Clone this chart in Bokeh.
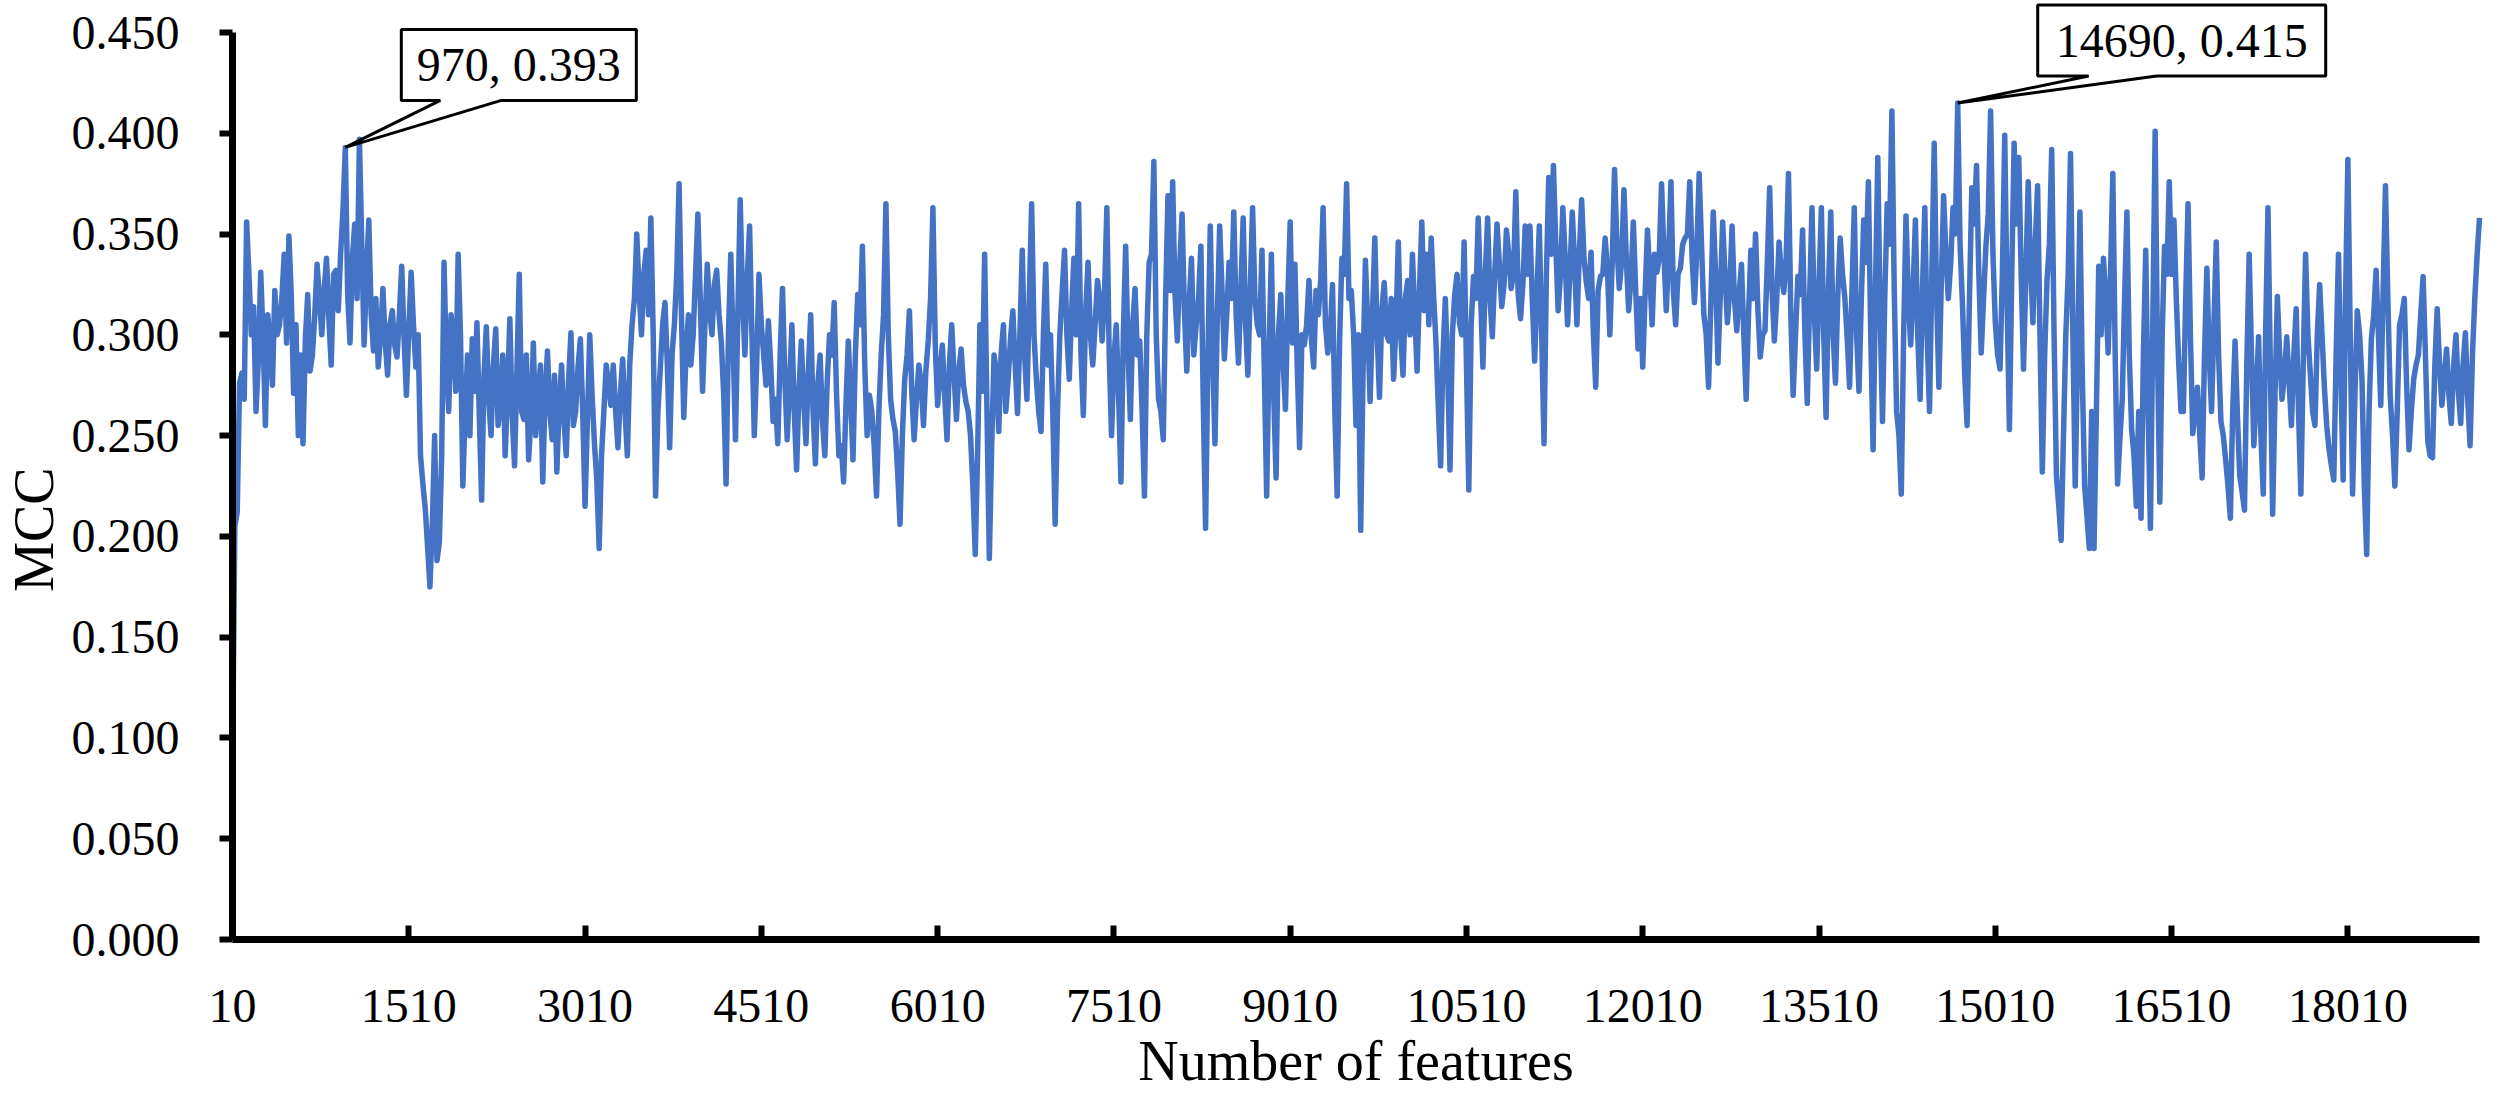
from math import pi
from bokeh.plotting import figure
from bokeh.models import Range1d, FixedTicker, Label, PolyAnnotation
from bokeh.embed import file_html
from bokeh.resources import INLINE

# ---- data: MCC ----
# values at 10, 50, 90, ... (every 40 features)
mcc_a_1 = [
    0.087, 0.212, 0.281, 0.356, 0.300, 0.262, 0.331, 0.255, 0.296, 0.322,
    0.305, 0.340, 0.349, 0.271, 0.250, 0.246, 0.320, 0.290, 0.335, 0.300,
    0.338, 0.285, 0.332, 0.340, 0.393, 0.296, 0.355, 0.397, 0.295, 0.357,
    0.292, 0.284, 0.323, 0.280, 0.312, 0.289, 0.334, 0.270, 0.331, 0.284,
    0.240, 0.214, 0.175, 0.250, 0.197, 0.336, 0.262, 0.296, 0.340, 0.225,
    0.290, 0.298, 0.306, 0.218, 0.304, 0.250, 0.303, 0.265, 0.240, 0.308,
    0.235, 0.330, 0.258, 0.238, 0.296, 0.268, 0.227, 0.292, 0.248, 0.232,
    0.285, 0.240, 0.301, 0.262, 0.298, 0.215, 0.300, 0.246, 0.194, 0.262,
    0.275,
]
mcc_a_2 = [
    0.285, 0.244, 0.288, 0.240, 0.305, 0.350, 0.300, 0.342, 0.358, 0.220,
    0.283, 0.316, 0.244, 0.305, 0.375, 0.259, 0.310, 0.300, 0.360, 0.272,
    0.335, 0.300, 0.332, 0.296, 0.226, 0.340, 0.248, 0.367, 0.290, 0.354,
    0.250, 0.330, 0.290, 0.307, 0.257, 0.246, 0.323, 0.248, 0.305, 0.233,
    0.297, 0.246, 0.310, 0.236, 0.290, 0.240, 0.300, 0.316, 0.240, 0.227,
    0.297, 0.238, 0.320, 0.344, 0.250, 0.262, 0.220, 0.290, 0.365, 0.268,
    0.252, 0.206, 0.278, 0.312, 0.248, 0.285, 0.255, 0.297, 0.363, 0.265,
    0.295, 0.248, 0.305, 0.258, 0.293, 0.267, 0.250, 0.191, 0.305,
]
mcc_a_3 = [
    0.340, 0.189, 0.290, 0.252, 0.305, 0.278, 0.312, 0.261, 0.342, 0.268,
    0.365, 0.278, 0.252, 0.335, 0.300, 0.206, 0.300, 0.342, 0.278, 0.338,
    0.365, 0.260, 0.336, 0.285, 0.327, 0.297, 0.363, 0.250, 0.305, 0.227,
    0.344, 0.258, 0.323, 0.297, 0.220, 0.336, 0.386, 0.268, 0.248, 0.369,
    0.376, 0.297, 0.360, 0.282, 0.338, 0.305, 0.344, 0.204, 0.354, 0.246,
    0.354, 0.288, 0.336, 0.361, 0.286, 0.358, 0.280, 0.363, 0.305, 0.342,
    0.220, 0.340, 0.229, 0.320, 0.263, 0.356, 0.335, 0.244, 0.295, 0.327,
    0.284, 0.310, 0.363, 0.291, 0.325, 0.220, 0.338, 0.375, 0.322,
]
mcc_a_4 = [
    0.255, 0.203, 0.337, 0.267, 0.348, 0.269, 0.326, 0.297, 0.278, 0.346,
    0.280, 0.327, 0.340, 0.282, 0.356, 0.340, 0.348, 0.297, 0.235, 0.318,
    0.233, 0.320, 0.306, 0.346, 0.223, 0.329, 0.358, 0.284, 0.358, 0.299,
    0.355, 0.314, 0.352, 0.323, 0.371, 0.308, 0.354, 0.354, 0.287, 0.354,
    0.246, 0.378, 0.384, 0.312, 0.363, 0.305, 0.361, 0.305, 0.367, 0.326,
    0.341, 0.274, 0.329, 0.348, 0.300, 0.382, 0.323, 0.372, 0.312, 0.356,
    0.293, 0.284, 0.352, 0.305, 0.331, 0.375, 0.312, 0.376, 0.305, 0.333,
    0.348, 0.376, 0.316, 0.380, 0.310, 0.274, 0.361, 0.286,
]
mcc_a_5 = [
    0.356, 0.306, 0.354, 0.302, 0.335, 0.268, 0.342, 0.350, 0.289, 0.302,
    0.373, 0.297, 0.346, 0.321, 0.380, 0.270, 0.329, 0.352, 0.266, 0.363,
    0.283, 0.363, 0.259, 0.361, 0.276, 0.348, 0.318, 0.274, 0.363, 0.272,
    0.357, 0.376, 0.243, 0.388, 0.257, 0.365, 0.411, 0.262, 0.221, 0.359,
    0.295, 0.357, 0.268, 0.363, 0.262, 0.395, 0.274, 0.369, 0.318, 0.363,
    0.415, 0.316, 0.255, 0.373, 0.384, 0.291, 0.344, 0.411, 0.306, 0.283,
    0.399, 0.253, 0.395, 0.388, 0.283, 0.376, 0.306, 0.374, 0.232, 0.327,
    0.392, 0.230, 0.198, 0.300, 0.390, 0.225, 0.361, 0.225, 0.194,
]
mcc_a_6 = [
    0.194, 0.334, 0.338, 0.291, 0.380, 0.226, 0.268, 0.361, 0.253, 0.215,
    0.209, 0.342, 0.204, 0.401, 0.217, 0.344, 0.376, 0.357, 0.287, 0.262,
    0.365, 0.251, 0.274, 0.229, 0.333, 0.262, 0.346, 0.257, 0.238, 0.209,
    0.297, 0.230, 0.213, 0.340, 0.245, 0.299, 0.221, 0.363, 0.211, 0.319,
    0.268, 0.299, 0.255, 0.313, 0.221, 0.340, 0.281, 0.255, 0.325, 0.274,
    0.243, 0.228, 0.340, 0.228, 0.387, 0.221, 0.312, 0.278, 0.191, 0.298,
    0.332, 0.265, 0.374, 0.270, 0.225, 0.305, 0.318, 0.243, 0.278, 0.290,
    0.329, 0.247, 0.239, 0.313, 0.265, 0.293, 0.256, 0.300, 0.256, 0.301,
    0.245, 0.318, 0.358,
]
# values at 30, 70, 110, ... (in between the ones above)
mcc_b_1 = [
    0.205, 0.276, 0.268, 0.330, 0.314, 0.287, 0.300, 0.310, 0.275, 0.300,
    0.318, 0.296, 0.320, 0.305, 0.290, 0.298, 0.282, 0.310, 0.318, 0.322,
    0.308, 0.330, 0.312, 0.362, 0.320, 0.338, 0.318, 0.345, 0.330, 0.310,
    0.318, 0.300, 0.296, 0.305, 0.295, 0.310, 0.298, 0.302, 0.305, 0.300,
    0.226, 0.195, 0.205, 0.188, 0.240, 0.285, 0.310, 0.272, 0.300, 0.262,
    0.250, 0.272, 0.260, 0.280, 0.268, 0.285, 0.255, 0.290, 0.272, 0.260,
    0.282, 0.262, 0.290, 0.260, 0.250, 0.285, 0.270, 0.262, 0.280, 0.265,
    0.258, 0.278, 0.255, 0.284, 0.262, 0.258, 0.270, 0.228, 0.240, 0.285,
    0.265,
]
mcc_b_2 = [
    0.262, 0.270, 0.262, 0.285, 0.318, 0.322, 0.330, 0.310, 0.300, 0.262,
    0.305, 0.285, 0.290, 0.330, 0.310, 0.292, 0.285, 0.330, 0.318, 0.305,
    0.312, 0.325, 0.310, 0.270, 0.300, 0.295, 0.310, 0.318, 0.328, 0.300,
    0.285, 0.305, 0.275, 0.285, 0.268, 0.290, 0.278, 0.275, 0.262, 0.272,
    0.268, 0.282, 0.262, 0.275, 0.258, 0.276, 0.290, 0.270, 0.245, 0.265,
    0.268, 0.290, 0.305, 0.285, 0.270, 0.245, 0.262, 0.310, 0.300, 0.258,
    0.232, 0.250, 0.290, 0.272, 0.268, 0.276, 0.282, 0.318, 0.295, 0.280,
    0.270, 0.285, 0.280, 0.282, 0.275, 0.262, 0.225, 0.240, 0.272,
]
mcc_b_3 = [
    0.262, 0.245, 0.282, 0.290, 0.262, 0.298, 0.285, 0.300, 0.290, 0.318,
    0.300, 0.262, 0.300, 0.285, 0.262, 0.262, 0.322, 0.300, 0.312, 0.300,
    0.290, 0.312, 0.300, 0.305, 0.318, 0.320, 0.290, 0.288, 0.270, 0.300,
    0.292, 0.305, 0.290, 0.262, 0.300, 0.340, 0.300, 0.262, 0.318, 0.322,
    0.320, 0.335, 0.312, 0.315, 0.290, 0.318, 0.268, 0.290, 0.290, 0.310,
    0.322, 0.310, 0.318, 0.310, 0.322, 0.306, 0.322, 0.318, 0.300, 0.282,
    0.292, 0.270, 0.300, 0.286, 0.318, 0.296, 0.285, 0.300, 0.305, 0.298,
    0.322, 0.328, 0.305, 0.300, 0.262, 0.296, 0.330, 0.318, 0.300,
]
mcc_b_4 = [
    0.300, 0.282, 0.305, 0.310, 0.300, 0.312, 0.300, 0.318, 0.305, 0.300,
    0.318, 0.300, 0.310, 0.322, 0.312, 0.305, 0.320, 0.265, 0.290, 0.282,
    0.300, 0.330, 0.300, 0.285, 0.305, 0.318, 0.320, 0.330, 0.318, 0.330,
    0.335, 0.325, 0.340, 0.330, 0.320, 0.325, 0.330, 0.318, 0.322, 0.300,
    0.330, 0.340, 0.345, 0.330, 0.338, 0.330, 0.336, 0.340, 0.338, 0.318,
    0.300, 0.322, 0.330, 0.332, 0.336, 0.345, 0.336, 0.338, 0.328, 0.322,
    0.318, 0.320, 0.330, 0.340, 0.338, 0.340, 0.340, 0.322, 0.330, 0.345,
    0.350, 0.338, 0.342, 0.345, 0.300, 0.318, 0.330, 0.320,
]
mcc_b_5 = [
    0.330, 0.322, 0.318, 0.320, 0.300, 0.310, 0.318, 0.312, 0.300, 0.336,
    0.322, 0.318, 0.330, 0.338, 0.310, 0.300, 0.320, 0.300, 0.318, 0.310,
    0.325, 0.300, 0.322, 0.300, 0.320, 0.330, 0.298, 0.322, 0.300, 0.318,
    0.336, 0.300, 0.322, 0.310, 0.320, 0.345, 0.322, 0.250, 0.300, 0.318,
    0.322, 0.300, 0.322, 0.300, 0.330, 0.320, 0.325, 0.340, 0.335, 0.350,
    0.345, 0.280, 0.318, 0.355, 0.330, 0.318, 0.360, 0.340, 0.290, 0.330,
    0.318, 0.330, 0.355, 0.330, 0.330, 0.335, 0.345, 0.300, 0.290, 0.345,
    0.300, 0.215, 0.250, 0.330, 0.300, 0.290, 0.280, 0.210, 0.262,
]
mcc_b_6 = [
    0.262, 0.300, 0.318, 0.330, 0.290, 0.248, 0.318, 0.290, 0.240, 0.262,
    0.290, 0.262, 0.305, 0.290, 0.300, 0.330, 0.330, 0.318, 0.262, 0.318,
    0.300, 0.262, 0.250, 0.290, 0.290, 0.305, 0.290, 0.250, 0.225, 0.262,
    0.260, 0.222, 0.285, 0.290, 0.270, 0.250, 0.300, 0.285, 0.270, 0.290,
    0.280, 0.276, 0.290, 0.262, 0.285, 0.300, 0.262, 0.300, 0.300, 0.255,
    0.235, 0.290, 0.280, 0.318, 0.300, 0.270, 0.300, 0.225, 0.262, 0.310,
    0.300, 0.322, 0.318, 0.250, 0.262, 0.310, 0.275, 0.262, 0.285, 0.310,
    0.290, 0.240, 0.285, 0.285, 0.280, 0.270, 0.285, 0.272, 0.285, 0.268,
    0.290, 0.340,
]
mcc_a = mcc_a_1 + mcc_a_2 + mcc_a_3 + mcc_a_4 + mcc_a_5 + mcc_a_6
mcc_b = mcc_b_1 + mcc_b_2 + mcc_b_3 + mcc_b_4 + mcc_b_5 + mcc_b_6
first_feature, step = 10, 40

features, mcc = [], []
for i, v in enumerate(mcc_a):
    features.append(first_feature + step * i)
    mcc.append(v)
    if i < len(mcc_b):
        features.append(first_feature + step * i + step // 2)
        mcc.append(mcc_b[i])

x_ticks = [10, 1510, 3010, 4510, 6010, 7510, 9010, 10510, 12010, 13510, 15010, 16510, 18010]
x_tick_labels = ["10", "1510", "3010", "4510", "6010", "7510", "9010", "10510",
                 "12010", "13510", "15010", "16510", "18010"]
y_ticks = [0.0, 0.05, 0.10, 0.15, 0.20, 0.25, 0.30, 0.35, 0.40, 0.45]
y_tick_labels = ["0.000", "0.050", "0.100", "0.150", "0.200", "0.250",
                 "0.300", "0.350", "0.400", "0.450"]
callout_points = [(970, 0.393), (14690, 0.415)]
x_title = "Number of features"
y_title = "MCC"

# ---- figure: the frame fills the canvas, axes sit at fixed data locations ----
FONT = "Liberation Serif"
W, H = 2484, 1093                                 # page has an 8px margin
AX_L, AX_R, AX_T, AX_B = 232, 2479, 32, 939       # pixel box of the plot area
x_lo, x_hi = features[0], features[-1]
y_lo, y_hi = 0.0, 0.45
px_per_x = (AX_R - AX_L) / (x_hi - x_lo)
px_per_y = (AX_B - AX_T) / (y_hi - y_lo)

p = figure(width=W, height=H, output_backend="svg", toolbar_location=None,
           x_range=Range1d(x_lo - AX_L / px_per_x, x_hi + (W - AX_R) / px_per_x),
           y_range=Range1d(y_lo - (H - AX_B) / px_per_y, y_hi + AX_T / px_per_y),
           min_border=0)
p.outline_line_color = None
p.xgrid.grid_line_color = None
p.ygrid.grid_line_color = None
p.background_fill_color = "white"
p.border_fill_color = "white"

p.line(features, mcc, line_color="#4472C4", line_width=5.5, line_join="round")

for ax in (p.xaxis[0], p.yaxis[0]):
    ax.axis_line_width = 7
    ax.axis_line_color = "black"
    ax.major_tick_line_width = 6
    ax.major_tick_line_color = "black"
    ax.minor_tick_line_color = None
    ax.major_label_text_font = FONT
    ax.major_label_text_font_size = "48px"
    ax.major_label_text_color = "black"

p.xaxis.fixed_location = y_lo
p.xaxis.bounds = (x_lo, x_hi)
p.xaxis.ticker = FixedTicker(ticks=x_ticks)
p.xaxis.major_label_overrides = dict(zip(x_ticks, x_tick_labels))
p.xaxis.major_tick_in = 14
p.xaxis.major_tick_out = 0
p.xaxis.major_label_standoff = 50

p.yaxis.fixed_location = x_lo
p.yaxis.bounds = (y_lo, y_hi)
p.yaxis.ticker = FixedTicker(ticks=y_ticks)
p.yaxis.major_label_overrides = dict(zip(y_ticks, y_tick_labels))
p.yaxis.major_tick_in = 0
p.yaxis.major_tick_out = 13
p.yaxis.major_label_standoff = 40

# axis titles
p.add_layout(Label(x=(x_lo + x_hi) / 2, y=y_lo - 121 / px_per_y, text=x_title,
                   text_font=FONT, text_font_size="56px", text_color="black",
                   text_align="center", text_baseline="middle"))
p.add_layout(Label(x=x_lo - 199 / px_per_x, y=0.2034, text=y_title, angle=pi / 2,
                   text_font=FONT, text_font_size="56px", text_color="black",
                   text_align="center", text_baseline="middle"))

# callouts: (left, right, top, bottom, wedge_left, wedge_right), px offsets from the point
callout_boxes = [(56, 291, -118, -47, 95, 156), (80, 368, -98, -27, 131, 199)]
for (cx, cy), (l, r, t, b, wl, wr) in zip(callout_points, callout_boxes):
    X = lambda d: cx + d / px_per_x
    Y = lambda d: cy - d / px_per_y
    xs = [X(l), X(r), X(r), X(wr), cx, X(wl), X(l)]
    ys = [Y(t), Y(t), Y(b), Y(b), cy, Y(b), Y(b)]
    p.add_layout(PolyAnnotation(xs=xs, ys=ys, fill_color="white", fill_alpha=1.0,
                                line_color="black", line_width=3, line_alpha=1.0))
    p.add_layout(Label(x=X((l + r) / 2), y=Y((t + b) / 2), text=f"{cx}, {cy:.3f}",
                       text_font=FONT, text_font_size="48px", text_color="black",
                       text_align="center", text_baseline="middle"))

open("out.html", "w").write(file_html(p, INLINE))
